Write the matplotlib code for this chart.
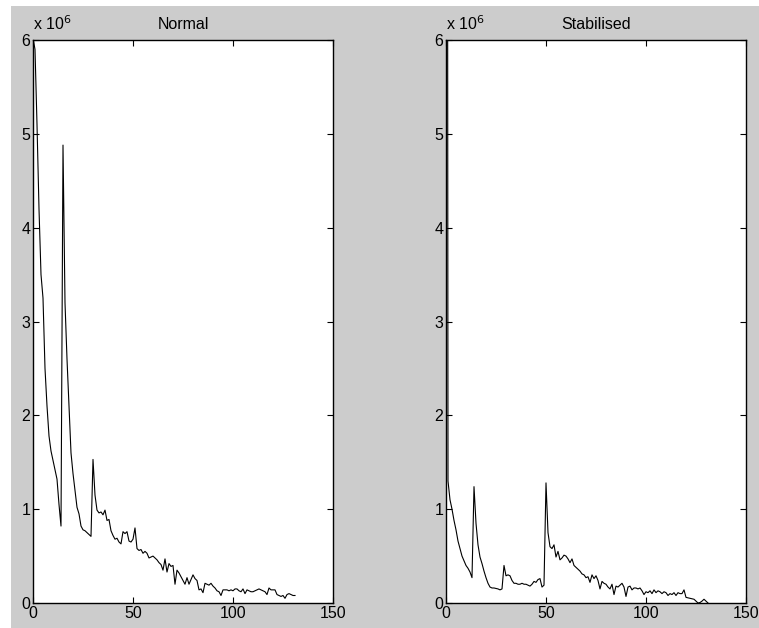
import matplotlib
matplotlib.use("Agg")
import matplotlib.pyplot as plt
from matplotlib.patches import Rectangle
import numpy as np

# values in units of 1e6, one per sample
normal = [6.02, 5.9, 5.1, 4.2, 3.5, 3.25, 2.5, 2.1, 1.78, 1.62,
          1.52, 1.42, 1.32, 1.05, 0.82, 4.88, 3.2, 2.6, 2.1, 1.6,
          1.38, 1.2, 1.02, 0.95, 0.82, 0.78, 0.77, 0.75, 0.73, 0.71,
          1.53, 1.15, 0.99, 0.96, 0.97, 0.94, 0.99, 0.88, 0.89, 0.77,
          0.72, 0.68, 0.69, 0.65, 0.63, 0.76, 0.74, 0.76, 0.66, 0.65,
          0.68, 0.80, 0.58, 0.56, 0.57, 0.53, 0.55, 0.53, 0.48, 0.49,
          0.50, 0.48, 0.46, 0.43, 0.41, 0.35, 0.47, 0.33, 0.42, 0.39,
          0.40, 0.20, 0.35, 0.32, 0.28, 0.24, 0.20, 0.27, 0.20, 0.25,
          0.30, 0.26, 0.24, 0.14, 0.15, 0.11, 0.21, 0.20, 0.19, 0.21,
          0.18, 0.16, 0.13, 0.12, 0.08, 0.14, 0.14, 0.14, 0.13, 0.14,
          0.13, 0.15, 0.15, 0.13, 0.12, 0.15, 0.10, 0.14, 0.13, 0.12,
          0.12, 0.13, 0.14, 0.15, 0.14, 0.13, 0.12, 0.09, 0.16, 0.14,
          0.14, 0.14, 0.09, 0.08, 0.07, 0.08, 0.05, 0.09, 0.10, 0.09,
          0.08, 0.08]

stabilised = [30.0, 1.30, 1.10, 1.00, 0.88, 0.78, 0.66, 0.58, 0.50, 0.45,
              0.40, 0.37, 0.33, 0.27, 1.24, 0.85, 0.62, 0.49, 0.42, 0.34,
              0.27, 0.21, 0.17, 0.16, 0.16, 0.155, 0.15, 0.14, 0.15, 0.40,
              0.29, 0.30, 0.29, 0.24, 0.21, 0.21, 0.20, 0.20, 0.21, 0.20,
              0.20, 0.19, 0.18, 0.20, 0.23, 0.22, 0.25, 0.26, 0.17, 0.19,
              1.28, 0.75, 0.60, 0.58, 0.62, 0.49, 0.55, 0.46, 0.48, 0.51,
              0.50, 0.47, 0.43, 0.47, 0.40, 0.38, 0.36, 0.34, 0.31, 0.30,
              0.27, 0.28, 0.22, 0.30, 0.26, 0.29, 0.24, 0.15, 0.23, 0.21,
              0.20, 0.17, 0.15, 0.20, 0.09, 0.18, 0.17, 0.19, 0.21, 0.17,
              0.07, 0.17, 0.18, 0.14, 0.16, 0.16, 0.15, 0.16, 0.13, 0.09,
              0.12, 0.11, 0.13, 0.10, 0.14, 0.11, 0.13, 0.12, 0.10, 0.12,
              0.11, 0.08, 0.10, 0.09, 0.11, 0.08, 0.11, 0.10, 0.10, 0.14,
              0.06, 0.055, 0.05, 0.045, 0.04, 0.02, 0.0, 0.005, 0.02, 0.04,
              0.02, 0.0]

titles = ["Normal", "Stabilised"]
xticks = [0, 50, 100, 150]
yticks = [0, 1, 2, 3, 4, 5, 6]

plt.rcParams['font.family'] = ['Liberation Sans', 'DejaVu Sans']
plt.rcParams['font.size'] = 11.5

W, H = 759, 628
fig = plt.figure(figsize=(W / 100, H / 100), dpi=100, facecolor='white')
fig.patches.append(Rectangle((11 / W, 0), 1, 622 / H, transform=fig.transFigure,
                             facecolor='#cccccc', edgecolor='none', zorder=-10))

lefts = [33, 446]
for left, title, data in zip(lefts, titles, [normal, stabilised]):
    ax = fig.add_axes([left / W, 25 / H, 300 / W, 563 / H])
    ax.plot(np.arange(len(data)), data, color='black', linewidth=0.8)
    ax.set_xlim(0, 150)
    ax.set_ylim(0, 6)
    ax.set_xticks(xticks)
    ax.set_yticks(yticks)
    ax.tick_params(direction='in', top=True, right=True, length=4,
                   width=0.8, labelsize=11.5, pad=2)
    for s in ax.spines.values():
        s.set_linewidth(1.0)
    ax.set_title(title, fontsize=11.5, pad=8)
    ax.text(0.0, 1.012, r'x 10$^{6}$', transform=ax.transAxes, fontsize=11.5,
            ha='left', va='bottom')

plt.savefig("out.png", dpi=100, facecolor=fig.get_facecolor())
plt.close()
